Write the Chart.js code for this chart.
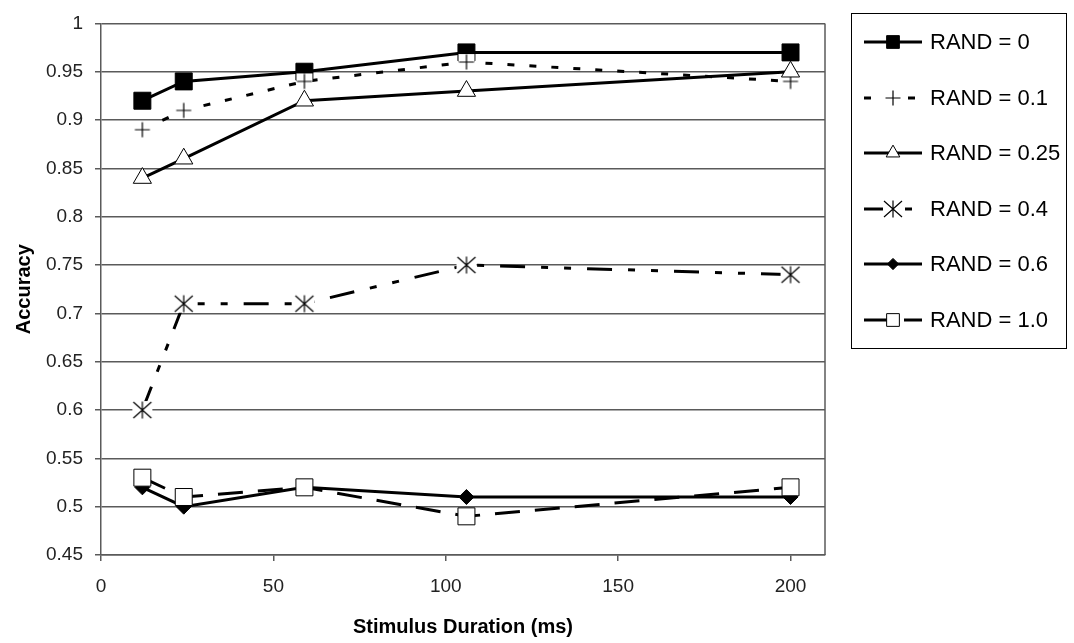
<!DOCTYPE html>
<html>
<head>
<meta charset="utf-8">
<script src="https://cdn.jsdelivr.net/npm/chart.js@4/dist/chart.umd.min.js"></script>
<style>
  body { margin: 0; background: #fff; }
  #wrap { width: 1074px; height: 643px; }
</style>
</head>
<body>
<div id="wrap"><canvas id="chart" width="1074" height="643"></canvas></div>
<script>
// stimulus durations (ms) and accuracy per RAND level
const durations = [12, 24, 59, 106, 200];
const rand0   = [0.92, 0.94, 0.95, 0.97, 0.97];
const rand01  = [0.89, 0.91, 0.94, 0.96, 0.94];
const rand025 = [0.84, 0.86, 0.92, 0.93, 0.95];
const rand04  = [0.60, 0.71, 0.71, 0.75, 0.74];
const rand06  = [0.52, 0.50, 0.52, 0.51, 0.51];
const rand10  = [0.53, 0.51, 0.52, 0.49, 0.52];
const seriesLabels = ['RAND = 0', 'RAND = 0.1', 'RAND = 0.25', 'RAND = 0.4', 'RAND = 0.6', 'RAND = 1.0'];
const xTicks = [0, 50, 100, 150, 200];
const yTicks = [0.45, 0.5, 0.55, 0.6, 0.65, 0.7, 0.75, 0.8, 0.85, 0.9, 0.95, 1];

const FONT = '"Liberation Sans", Arial, sans-serif';
const GRID = '#5a5a5a';

// little canvases for the markers chart.js has no shape for
function plusMarker() {
    const c = document.createElement('canvas');
    c.width = 18; c.height = 18;
    const g = c.getContext('2d');
    g.fillStyle = '#fff'; g.fillRect(1, 1, 16, 16);
    g.strokeStyle = '#000'; g.lineWidth = 1.2;
    g.beginPath();
    g.moveTo(9, 1.5); g.lineTo(9, 16.5);
    g.moveTo(1.5, 9); g.lineTo(16.5, 9);
    g.stroke();
    return c;
}
function starMarker() {
    const c = document.createElement('canvas');
    c.width = 22; c.height = 20;
    const g = c.getContext('2d');
    g.fillStyle = '#fff'; g.fillRect(1, 1, 20, 18);
    g.strokeStyle = '#000'; g.lineWidth = 1.2;
    g.beginPath();
    g.moveTo(11, 1.5); g.lineTo(11, 18.5);
    g.moveTo(2, 2); g.lineTo(20, 18);
    g.moveTo(20, 2); g.lineTo(2, 18);
    g.stroke();
    return c;
}

const styles = [
    { pointStyle: 'rect', radius: 12, fill: '#000', dash: [] },
    { pointStyle: plusMarker(), radius: 9, fill: '#000', dash: [7, 15] },
    { pointStyle: 'triangle', radius: 10.5, fill: '#fff', dash: [] },
    { pointStyle: starMarker(), radius: 10, fill: '#000', dash: [25, 16, 7, 16, 7, 16] },
    { pointStyle: 'rectRot', radius: 7.5, fill: '#000', dash: [] },
    { pointStyle: 'rect', radius: 12, fill: '#fff', dash: [25, 15] }
];
const values = [rand0, rand01, rand025, rand04, rand06, rand10];

const datasets = values.map((vals, i) => ({
    label: seriesLabels[i],
    data: vals.map((v, j) => ({ x: durations[j], y: v })),
    borderColor: '#000',
    borderWidth: 3,
    borderDash: styles[i].dash,
    pointStyle: styles[i].pointStyle,
    pointRadius: styles[i].radius,
    pointBackgroundColor: styles[i].fill,
    pointBorderColor: '#000',
    pointBorderWidth: 1,
    tension: 0,
    fill: false,
    order: values.length - i
}));

// right edge of the plot frame
const frame = {
    id: 'frame',
    afterDatasetsDraw(chart) {
        const { ctx, chartArea } = chart;
        ctx.save();
        ctx.strokeStyle = GRID;
        ctx.lineWidth = 1.5;
        ctx.beginPath();
        ctx.moveTo(chartArea.right, chartArea.top);
        ctx.lineTo(chartArea.right, chartArea.bottom);
        ctx.stroke();
        ctx.restore();
    }
};

// boxed legend with line + marker samples
const legendBox = {
    id: 'legendBox',
    afterDraw(chart) {
        const ctx = chart.ctx;
        ctx.save();
        ctx.strokeStyle = '#000';
        ctx.lineWidth = 1;
        ctx.strokeRect(851.5, 13.5, 215, 335);
        chart.data.datasets.forEach((ds, i) => {
            const y = Math.round(42 + i * 55.6);
            ctx.strokeStyle = '#000';
            ctx.lineWidth = 3;
            ctx.setLineDash(ds.borderDash);
            ctx.beginPath();
            ctx.moveTo(864, y);
            ctx.lineTo(922, y);
            ctx.stroke();
            ctx.setLineDash([]);
            const ps = ds.pointStyle;
            if (ps instanceof HTMLCanvasElement) {
                ctx.drawImage(ps, 893 - ps.width / 2, y - ps.height / 2);
            } else if (Chart.helpers && Chart.helpers.drawPoint) {
                ctx.fillStyle = ds.pointBackgroundColor;
                ctx.lineWidth = 1;
                Chart.helpers.drawPoint(ctx, { pointStyle: ps, radius: ds.pointRadius * 0.75, rotation: 0, borderWidth: 1 }, 893, y);
            }
            ctx.fillStyle = '#000';
            ctx.font = '22px ' + FONT;
            ctx.textBaseline = 'middle';
            ctx.textAlign = 'left';
            ctx.fillText(ds.label, 930, y + 1);
        });
        ctx.restore();
    }
};

new Chart(document.getElementById('chart').getContext('2d'), {
    type: 'line',
    data: { datasets: datasets },
    plugins: [frame, legendBox],
    options: {
        responsive: false,
        animation: false,
        layout: { padding: { left: 0, top: 16, right: 249, bottom: 0 } },
        plugins: { legend: { display: false }, tooltip: { enabled: false } },
        scales: {
            x: {
                type: 'linear',
                min: 0,
                max: 210,
                afterBuildTicks: s => { s.ticks = xTicks.map(v => ({ value: v })); },
                afterFit: s => { s.height = 88; },
                grid: { drawOnChartArea: false, drawTicks: true, tickLength: 6, color: GRID, lineWidth: 1.5 },
                border: { display: true, color: GRID, width: 1.5 },
                ticks: { padding: 14, color: '#222', font: { family: FONT, size: 19 }, maxRotation: 0 },
                title: { display: true, text: 'Stimulus Duration (ms)', color: '#000', font: { family: FONT, size: 20, weight: 'bold' }, padding: { top: 4, bottom: 4 } }
            },
            y: {
                type: 'linear',
                min: 0.45,
                max: 1,
                afterBuildTicks: s => { s.ticks = yTicks.map(v => ({ value: v })); },
                afterFit: s => { s.width = 101; },
                grid: { drawOnChartArea: true, drawTicks: true, tickLength: 6, color: GRID, lineWidth: 1.5 },
                border: { display: true, color: GRID, width: 1.5 },
                ticks: { padding: 12, color: '#222', font: { family: FONT, size: 19 }, callback: v => String(Number(v.toFixed(2))) },
                title: { display: true, text: 'Accuracy', color: '#000', font: { family: FONT, size: 20, weight: 'bold' }, padding: { top: 12, bottom: 0 } }
            }
        }
    }
});
</script>
</body>
</html>
